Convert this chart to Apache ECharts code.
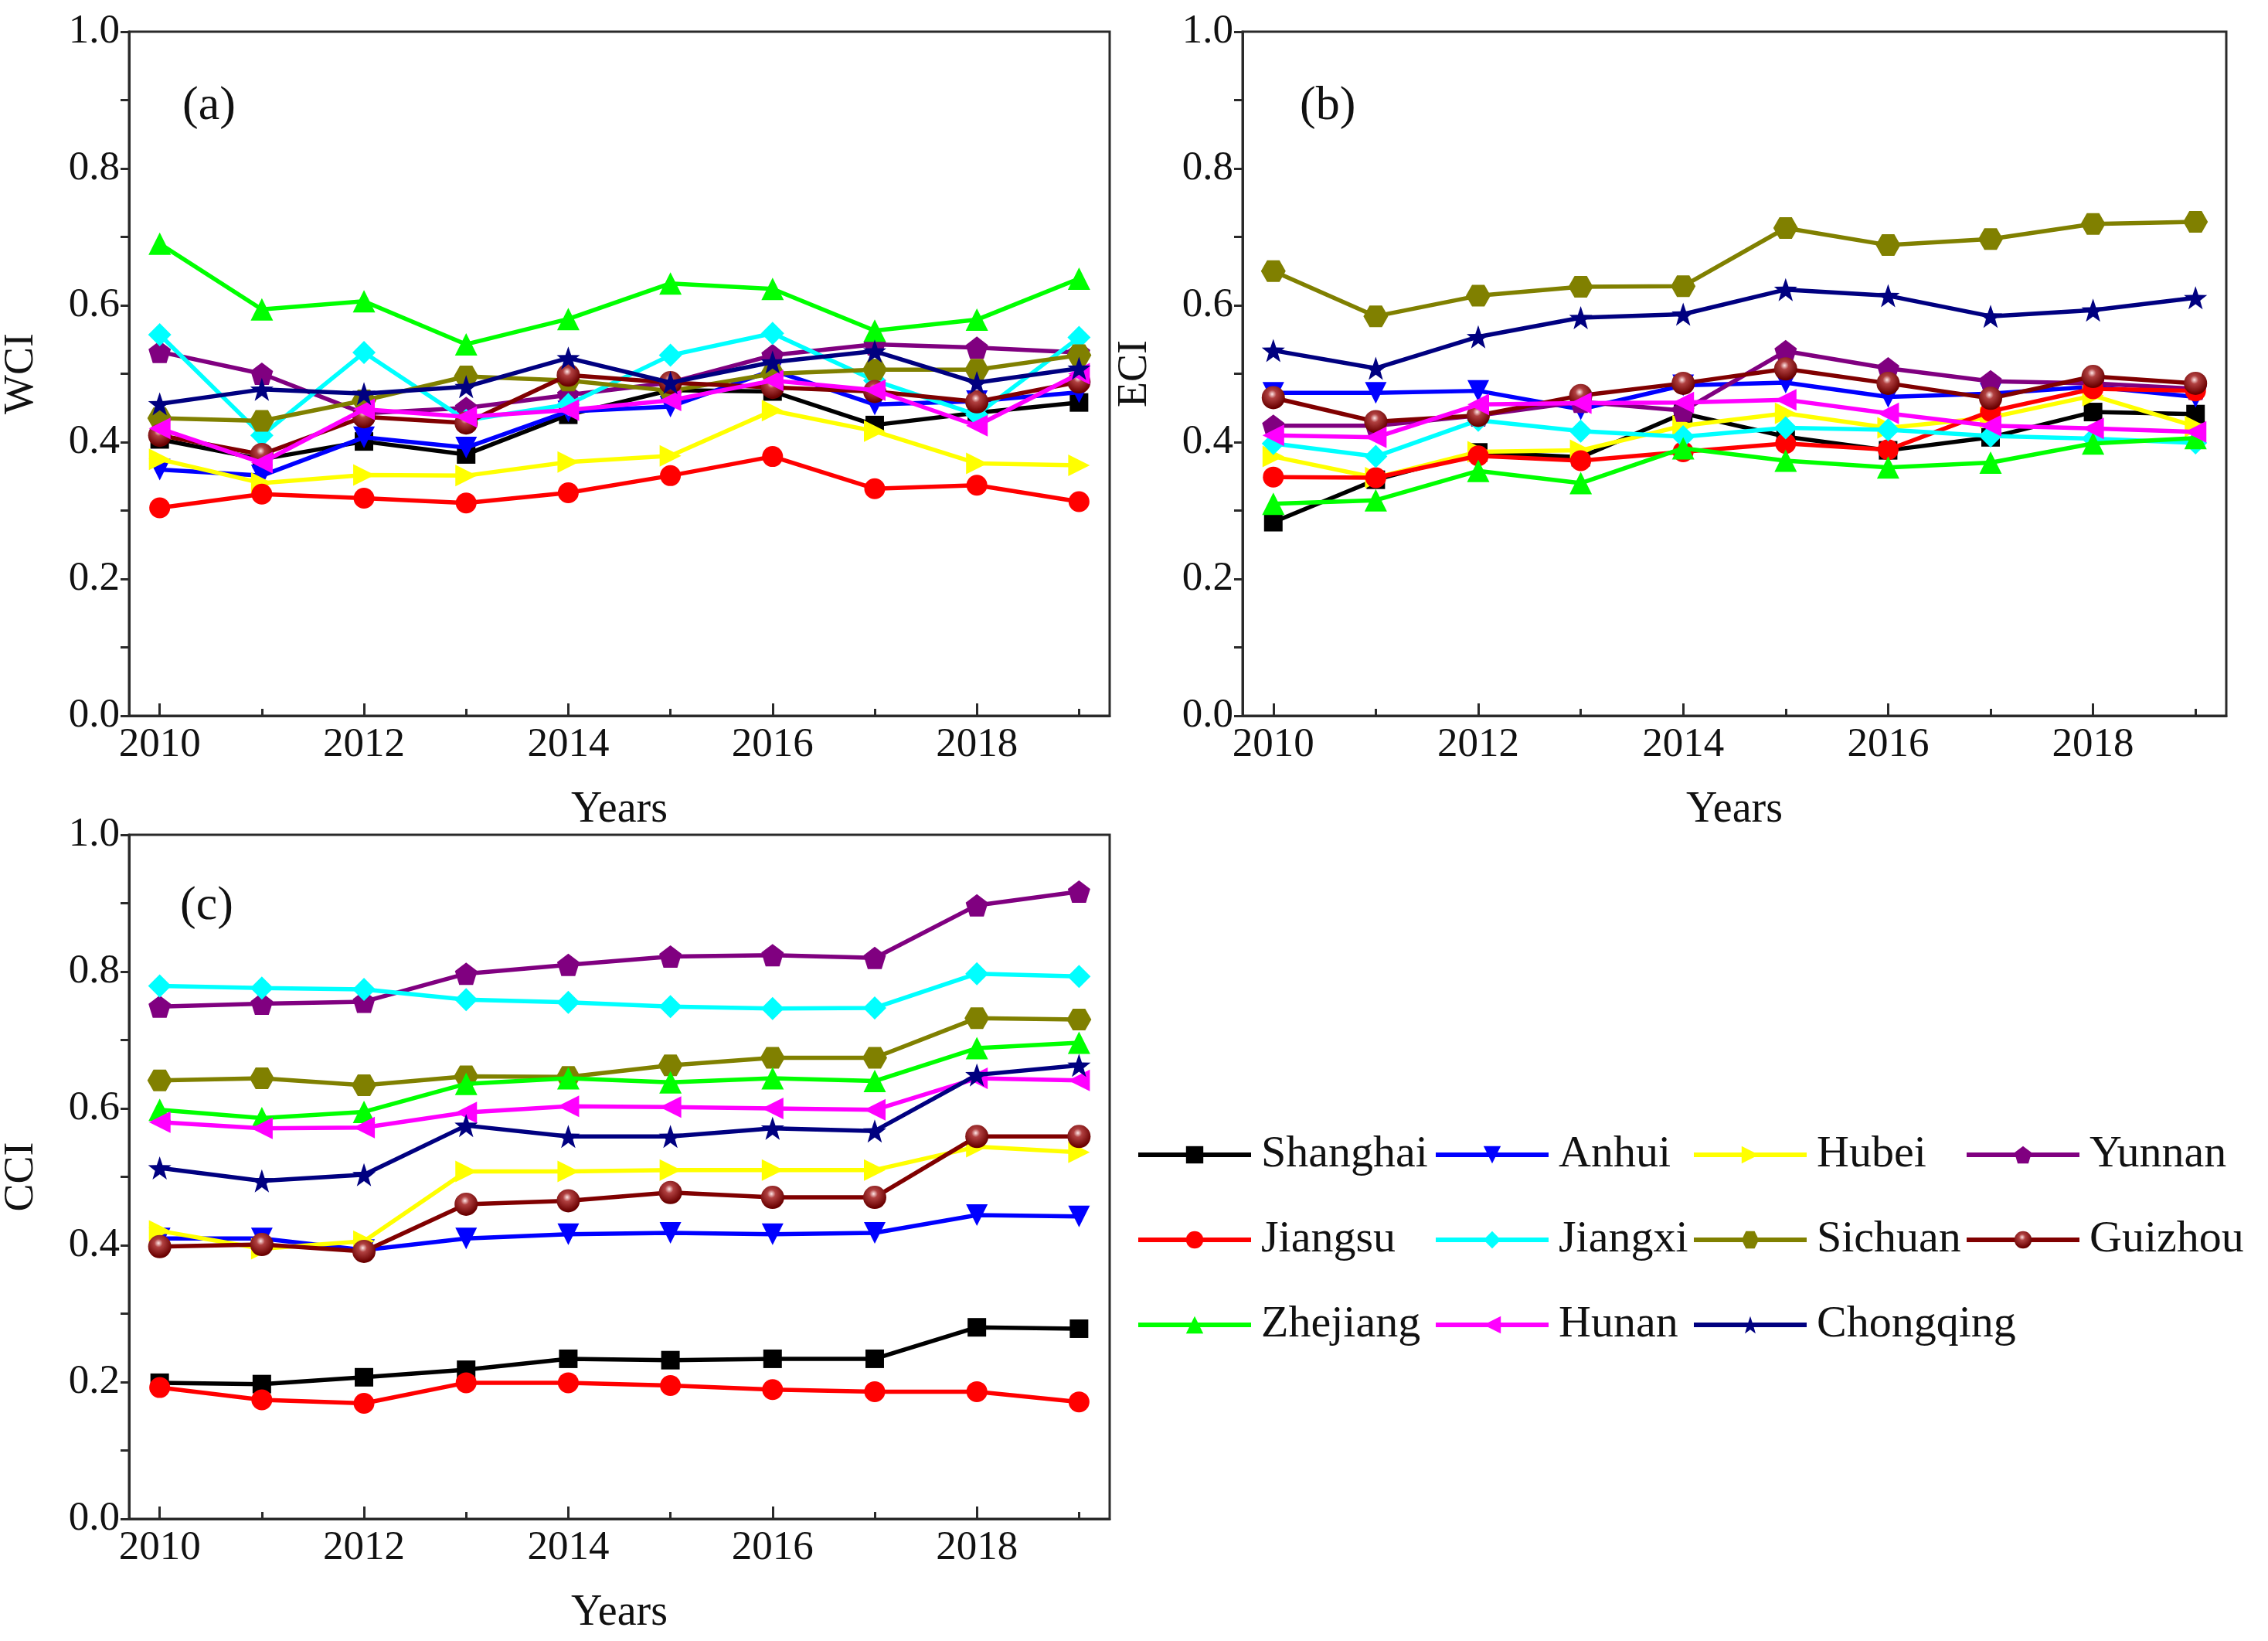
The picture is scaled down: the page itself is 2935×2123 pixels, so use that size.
<!DOCTYPE html>
<html>
<head>
<meta charset="utf-8">
<script src="https://cdn.jsdelivr.net/npm/echarts@6.0.0/dist/echarts.min.js"></script>
<style>
html,body{margin:0;padding:0;background:#fff;}
#chart{width:2935px;height:2123px;}
</style>
</head>
<body>
<div id="chart"></div>
<script>
// ---------- DATA ----------
const years = [2010, 2011, 2012, 2013, 2014, 2015, 2016, 2017, 2018, 2019];
const provinces = ['Shanghai','Anhui','Hubei','Yunnan','Jiangsu','Jiangxi','Sichuan','Guizhou','Zhejiang','Hunan','Chongqing'];
const xLabelYears = [2010, 2012, 2014, 2016, 2018];
const yTickLabels = [0, 0.2, 0.4, 0.6, 0.8, 1.0];

// (a) WCI
const wciShanghai  = [0.404, 0.375, 0.401, 0.382, 0.440, 0.476, 0.474, 0.425, 0.443, 0.458];
const wciAnhui     = [0.360, 0.351, 0.407, 0.392, 0.445, 0.452, 0.505, 0.455, 0.460, 0.473];
const wciHubei     = [0.375, 0.340, 0.352, 0.351, 0.371, 0.380, 0.446, 0.416, 0.369, 0.366];
const wciYunnan    = [0.532, 0.500, 0.442, 0.450, 0.469, 0.487, 0.527, 0.543, 0.538, 0.531];
const wciJiangsu   = [0.304, 0.324, 0.318, 0.311, 0.326, 0.351, 0.379, 0.332, 0.337, 0.313];
const wciJiangxi   = [0.557, 0.410, 0.531, 0.432, 0.455, 0.527, 0.559, 0.490, 0.440, 0.553];
const wciSichuan   = [0.435, 0.431, 0.461, 0.496, 0.490, 0.475, 0.500, 0.506, 0.506, 0.527];
const wciGuizhou   = [0.410, 0.382, 0.437, 0.428, 0.498, 0.487, 0.480, 0.474, 0.459, 0.488];
const wciZhejiang  = [0.690, 0.594, 0.606, 0.543, 0.580, 0.632, 0.624, 0.563, 0.579, 0.639];
const wciHunan     = [0.420, 0.370, 0.448, 0.437, 0.447, 0.461, 0.490, 0.476, 0.424, 0.500];
const wciChongqing = [0.456, 0.477, 0.471, 0.481, 0.523, 0.487, 0.517, 0.533, 0.487, 0.508];

// (b) ECI
const eciShanghai  = [0.283, 0.345, 0.385, 0.378, 0.442, 0.408, 0.388, 0.407, 0.444, 0.441];
const eciAnhui     = [0.472, 0.472, 0.475, 0.448, 0.483, 0.487, 0.466, 0.471, 0.481, 0.466];
const eciHubei     = [0.379, 0.348, 0.386, 0.388, 0.424, 0.442, 0.421, 0.436, 0.468, 0.423];
const eciYunnan    = [0.424, 0.424, 0.439, 0.459, 0.446, 0.533, 0.508, 0.489, 0.486, 0.478];
const eciJiangsu   = [0.349, 0.348, 0.380, 0.373, 0.386, 0.398, 0.389, 0.445, 0.478, 0.475];
const eciJiangxi   = [0.398, 0.379, 0.432, 0.416, 0.408, 0.421, 0.418, 0.409, 0.405, 0.399];
const eciSichuan   = [0.650, 0.584, 0.614, 0.627, 0.628, 0.713, 0.688, 0.697, 0.719, 0.722];
const eciGuizhou   = [0.465, 0.430, 0.439, 0.468, 0.486, 0.507, 0.486, 0.464, 0.496, 0.486];
const eciZhejiang  = [0.310, 0.315, 0.358, 0.340, 0.391, 0.373, 0.363, 0.370, 0.398, 0.406];
const eciHunan     = [0.410, 0.407, 0.455, 0.457, 0.458, 0.462, 0.442, 0.424, 0.420, 0.415];
const eciChongqing = [0.534, 0.508, 0.554, 0.582, 0.587, 0.623, 0.614, 0.584, 0.593, 0.611];

// (c) CCI
const cciShanghai  = [0.199, 0.197, 0.207, 0.218, 0.234, 0.232, 0.234, 0.234, 0.280, 0.278];
const cciAnhui     = [0.410, 0.410, 0.393, 0.410, 0.416, 0.418, 0.416, 0.418, 0.444, 0.442];
const cciHubei     = [0.421, 0.395, 0.406, 0.508, 0.508, 0.510, 0.510, 0.510, 0.544, 0.536];
const cciYunnan    = [0.749, 0.753, 0.756, 0.797, 0.810, 0.822, 0.824, 0.820, 0.897, 0.917];
const cciJiangsu   = [0.192, 0.174, 0.169, 0.199, 0.199, 0.195, 0.189, 0.186, 0.186, 0.171];
const cciJiangxi   = [0.779, 0.776, 0.774, 0.759, 0.755, 0.749, 0.746, 0.747, 0.797, 0.793];
const cciSichuan   = [0.641, 0.644, 0.634, 0.647, 0.646, 0.663, 0.674, 0.674, 0.732, 0.730];
const cciGuizhou   = [0.398, 0.401, 0.391, 0.460, 0.465, 0.477, 0.470, 0.470, 0.559, 0.559];
const cciZhejiang  = [0.598, 0.586, 0.595, 0.636, 0.644, 0.638, 0.644, 0.640, 0.688, 0.696];
const cciHunan     = [0.580, 0.571, 0.572, 0.594, 0.603, 0.602, 0.600, 0.598, 0.644, 0.641];
const cciChongqing = [0.513, 0.494, 0.503, 0.575, 0.559, 0.559, 0.571, 0.567, 0.649, 0.663];

const panelData = [
  [wciShanghai, wciAnhui, wciHubei, wciYunnan, wciJiangsu, wciJiangxi, wciSichuan, wciGuizhou, wciZhejiang, wciHunan, wciChongqing],
  [eciShanghai, eciAnhui, eciHubei, eciYunnan, eciJiangsu, eciJiangxi, eciSichuan, eciGuizhou, eciZhejiang, eciHunan, eciChongqing],
  [cciShanghai, cciAnhui, cciHubei, cciYunnan, cciJiangsu, cciJiangxi, cciSichuan, cciGuizhou, cciZhejiang, cciHunan, cciChongqing]
];
const panelNames = ['WCI', 'ECI', 'CCI'];
const panelLetters = ['(a)', '(b)', '(c)'];

// ---------- STYLE ----------
const FONT = '"Liberation Serif", "DejaVu Serif", serif';
const colors = {
  Shanghai:'#000000', Anhui:'#0000FF', Hubei:'#FFFF00', Yunnan:'#800080', Jiangsu:'#FF0000',
  Jiangxi:'#00FFFF', Sichuan:'#808000', Guizhou:'#800000', Zhejiang:'#00FF00', Hunan:'#FF00FF', Chongqing:'#000080'
};
const STAR = 'path://M10,0 L12.35,6.76 L19.51,6.91 L13.8,11.24 L15.88,18.09 L10,14 L4.12,18.09 L6.2,11.24 L0.49,6.91 L7.65,6.76 Z';
const symbols = {
  Shanghai:'rect',
  Anhui:'path://M0,0 L10,0 L5,9 Z',
  Hubei:'path://M0,0 L9,5 L0,10 Z',
  Yunnan:'path://M10,0 L19.51,6.91 L15.88,18.09 L4.12,18.09 L0.49,6.91 Z',
  Jiangsu:'circle',
  Jiangxi:'diamond',
  Sichuan:'path://M0,8.66 L5,0 L15,0 L20,8.66 L15,17.32 L5,17.32 Z',
  Guizhou:'circle',
  Zhejiang:'path://M5,0 L10,9 L0,9 Z',
  Hunan:'path://M9,0 L0,5 L9,10 Z',
  Chongqing:STAR
};
const symSizes = {
  Shanghai:24, Anhui:28, Hubei:28, Yunnan:29, Jiangsu:27, Jiangxi:30, Sichuan:[32,28],
  Guizhou:30, Zhejiang:29, Hunan:28, Chongqing:30
};
function fillFor(name){
  if (name === 'Guizhou') {
    return {type:'radial', x:0.45, y:0.35, r:0.6, colorStops:[
      {offset:0, color:'#ffe8e8'}, {offset:0.3, color:'#b04040'}, {offset:1, color:'#6a0000'}]};
  }
  return colors[name];
}

const grids = [
  {left:162, top:41, width:1274, height:885},
  {left:1608, top:41, width:1273, height:885},
  {left:162, top:1080, width:1274, height:885}
];

const axisColor = '#2a2a2a';
const xAxes = [], yAxes = [], series = [];
grids.forEach((g, gi) => {
  xAxes.push({
    gridIndex: gi, type:'value', min:2009.7, max:2019.3,
    name:'Years', nameLocation:'middle', nameGap:94,
    nameTextStyle:{fontFamily:FONT, fontSize:56, color:'#111'},
    axisLine:{show:true, onZero:false, lineStyle:{color:axisColor, width:3}},
    axisTick:{show:true, inside:true, length:16, customValues:xLabelYears, lineStyle:{color:axisColor, width:3}},
    axisLabel:{show:true, customValues:xLabelYears, margin:12, fontFamily:FONT, fontSize:53, color:'#111',
      formatter: v => String(Math.round(v))},
    splitLine:{show:false}
  });
  xAxes.push({
    gridIndex: gi, type:'value', min:2009.7, max:2019.3, position:'bottom',
    axisLine:{show:false},
    axisTick:{show:true, inside:true, length:9, customValues:years.filter(y => y % 2 === 1), lineStyle:{color:axisColor, width:3}},
    axisLabel:{show:false},
    splitLine:{show:false}
  });
  yAxes.push({
    gridIndex: gi, type:'value', min:0, max:1,
    name: panelNames[gi], nameLocation:'middle', nameGap:112,
    nameTextStyle:{fontFamily:FONT, fontSize:54, color:'#111'},
    axisLine:{show:true, onZero:false, lineStyle:{color:axisColor, width:3}},
    axisTick:{show:true, inside:false, length:11, customValues:[0,0.1,0.2,0.3,0.4,0.5,0.6,0.7,0.8,0.9,1.0], lineStyle:{color:axisColor, width:3}},
    axisLabel:{show:true, customValues:yTickLabels, margin:12, fontFamily:FONT, fontSize:53, color:'#111',
      formatter: v => v.toFixed(1)},
    splitLine:{show:false}
  });
  provinces.forEach((p, pi) => {
    series.push({
      name:p, type:'line', xAxisIndex: gi*2, yAxisIndex: gi,
      data: years.map((y, i) => [y, panelData[gi][pi][i]]),
      symbol: symbols[p], symbolSize: symSizes[p], showSymbol:true,
      lineStyle:{color:colors[p], width:5.5},
      itemStyle:{color:fillFor(p), borderWidth:0},
      emphasis:{disabled:true}, animation:false, z: 2 + pi*0.01
    });
  });
});

const legendCols = [
  {left:1465, data:['Shanghai','Jiangsu','Zhejiang']},
  {left:1850, data:['Anhui','Jiangxi','Hunan']},
  {left:2184, data:['Hubei','Sichuan','Chongqing']},
  {left:2537, data:['Yunnan','Guizhou']}
];
const legends = legendCols.map(c => ({
  orient:'vertical', left:c.left, top:1460, data:c.data,
  itemWidth:146, itemHeight:28, itemGap:52, selectedMode:false,
  lineStyle:{width:6},
  textStyle:{fontFamily:FONT, fontSize:58, color:'#111', padding:[0,0,0,8]}
}));

const graphics = panelLetters.map((t, i) => ({
  type:'text',
  x: [236, 1682, 233][i], y: [138, 138, 1173][i],
  style:{text:t, font:'62px ' + FONT, fill:'#111', verticalAlign:'middle'}
}));

const chart = echarts.init(document.getElementById('chart'), null, {renderer:'canvas'});
chart.setOption({
  backgroundColor:'#fff',
  animation:false,
  grid: grids.map(g => Object.assign({show:true, borderColor:axisColor, borderWidth:3, backgroundColor:'transparent'}, g)),
  xAxis: xAxes,
  yAxis: yAxes,
  legend: legends,
  graphic: graphics,
  series: series
});
</script>
</body>
</html>
